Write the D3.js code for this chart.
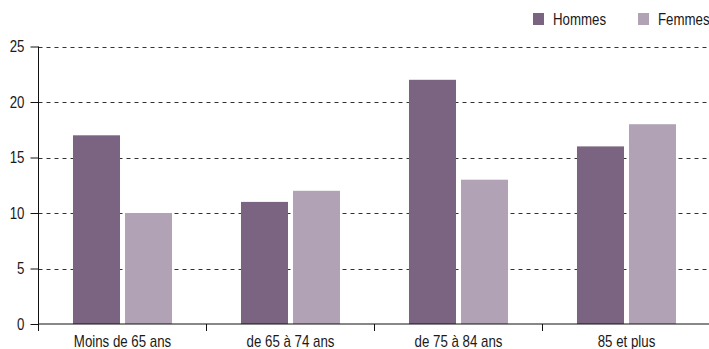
<!DOCTYPE html>
<html>
<head>
<meta charset="utf-8">
<script src="https://cdn.jsdelivr.net/npm/d3@7"></script>
<style>
  body { margin: 0; background: #fff; }
  text { font-family: "Liberation Sans", Arial, sans-serif; fill: #1a1a1a; }
</style>
</head>
<body>
<div id="chart"></div>
<script>
var categories = ["Moins de 65 ans", "de 65 à 74 ans", "de 75 à 84 ans", "85 et plus"];
var series = ["Hommes", "Femmes"];
var hommes = [17, 11, 22, 16];
var femmes = [10, 12, 13, 18];
var yTicks = [0, 5, 10, 15, 20, 25];

var colors = { Hommes: "#7b6482", Femmes: "#b1a3b5" };

var W = 709, H = 349;
var margin = { top: 46.5, left: 38.5, right: 0, bottom: 25 };
var squeeze = 0.83;   // narrow the font to look condensed

var svg = d3.select("#chart").append("svg")
    .attr("width", W)
    .attr("height", H);

var rows = categories.map(function(c, i) {
  return { cat: c, Hommes: hommes[i], Femmes: femmes[i] };
});

var x0 = d3.scaleBand()
    .domain(categories)
    .range([margin.left, margin.left + 672]);

var x1 = d3.scaleBand()
    .domain(series)
    .range([0, x0.bandwidth()])
    .paddingInner(0.096)
    .paddingOuter(0.663);

var y = d3.scaleLinear()
    .domain([0, 25])
    .range([H - margin.bottom, margin.top]);

function condense(sel) {
  sel.each(function() {
    var t = d3.select(this);
    var x = +t.attr("x") || 0;
    t.attr("x", x / squeeze)
     .attr("transform", "scale(" + squeeze + ",1)")
     .style("font-size", "16px");
  });
}

// gridlines
svg.append("g")
  .selectAll("line")
  .data(yTicks.filter(function(d) { return d > 0; }))
  .enter().append("line")
  .attr("x1", margin.left)
  .attr("x2", W)
  .attr("y1", function(d) { return Math.round(y(d)) + 0.5; })
  .attr("y2", function(d) { return Math.round(y(d)) + 0.5; })
  .attr("stroke", "#333")
  .attr("stroke-width", 1)
  .attr("stroke-dasharray", "4,4");

// bars
svg.append("g")
  .selectAll("g")
  .data(rows)
  .enter().append("g")
  .attr("transform", function(d) { return "translate(" + x0(d.cat) + ",0)"; })
  .selectAll("rect")
  .data(function(d) { return series.map(function(s) { return { key: s, value: d[s] }; }); })
  .enter().append("rect")
  .attr("x", function(d) { return x1(d.key); })
  .attr("width", x1.bandwidth())
  .attr("y", function(d) { return y(d.value); })
  .attr("height", function(d) { return y(0) - y(d.value); })
  .attr("fill", function(d) { return colors[d.key]; });

// y axis
var yAxis = d3.axisLeft(y)
    .tickValues(yTicks)
    .tickSize(8)
    .tickPadding(6);

var gy = svg.append("g")
    .attr("transform", "translate(" + margin.left + ",0)")
    .call(yAxis);
gy.selectAll("line, path").attr("stroke", "#111");
gy.select(".domain").attr("d", "M0," + y(25) + "V" + (y(0) + 7));
gy.selectAll("text").call(condense);

// x axis, labels only
var xAxis = d3.axisBottom(x0).tickSize(0).tickPadding(12);
var gx = svg.append("g")
    .attr("transform", "translate(0," + y(0) + ")")
    .call(xAxis);
gx.select(".domain").attr("stroke", "#111").attr("d", "M" + margin.left + ",0H" + W);
gx.selectAll("text").call(condense);

// boundary ticks between categories
svg.append("g")
  .selectAll("line")
  .data(categories.slice(1))
  .enter().append("line")
  .attr("x1", function(d) { return x0(d); })
  .attr("x2", function(d) { return x0(d); })
  .attr("y1", y(0))
  .attr("y2", y(0) + 7)
  .attr("stroke", "#111");

// legend
var legend = svg.append("g")
  .selectAll("g")
  .data(series)
  .enter().append("g")
  .attr("transform", function(d, i) { return "translate(" + (533 + i * 105) + ",13)"; });

legend.append("rect")
  .attr("width", 11)
  .attr("height", 12)
  .attr("fill", function(d) { return colors[d]; });

legend.append("text")
  .attr("x", 20)
  .attr("y", 12)
  .text(function(d) { return d; })
  .call(condense);
</script>
</body>
</html>
